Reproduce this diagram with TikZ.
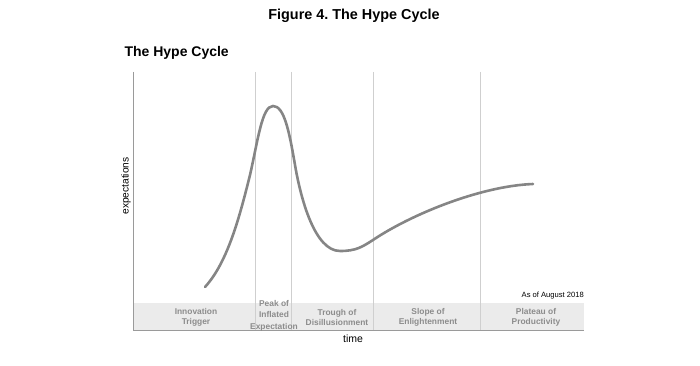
\documentclass[tikz,border=0pt]{standalone}
\usepackage{fontspec}
\setmainfont{Liberation Sans}
\frenchspacing
\definecolor{curvegray}{HTML}{858585}
\definecolor{gridgray}{HTML}{CFCFCF}
\definecolor{axisgray}{HTML}{9A9A9A}
\definecolor{bandgray}{HTML}{EBEBEB}
\definecolor{labelgray}{HTML}{8C8C8C}
\tikzset{
  phase/.style={align=center, text=labelgray, font=\fontsize{8.4}{10}\selectfont\bfseries},
  divider/.style={draw=gridgray, line width=0.8pt},
}
\begin{document}
\begin{tikzpicture}[x=1pt, y=-1pt]
\useasboundingbox (0,0) rectangle (700,366);
% titles
\node[font=\fontsize{14.4}{16}\selectfont\bfseries] (fig) at (354,16) {Figure 4. The Hype Cycle};
\node[font=\fontsize{14}{16}\selectfont\bfseries, anchor=west] (title) at (121,53) {The Hype Cycle};
% phase band and dividers
\fill[bandgray] (133,303) rectangle (584,330);
\draw[divider] (255,72) -- (255,330);
\draw[divider] (291,72) -- (291,330);
\draw[divider] (373,72) -- (373,330);
\draw[divider] (480,72) -- (480,330);
% axes
\coordinate (top) at (133,72);
\coordinate (origin) at (133,330.5);
\coordinate (xend) at (584,330.5);
\draw[axisgray, line width=1pt] (top) -- (origin) -- (xend);
% the hype curve
\coordinate (start) at (205,287);
\coordinate (peak) at (273,106);
\coordinate (trough) at (340,251);
\coordinate (plateau) at (533,184);
\draw[curvegray, line width=2.6pt, line cap=round]
  (start) .. controls (228,262) and (240,215) .. (250,175)
  .. controls (258,140) and (262,106) .. (peak)
  .. controls (284,106) and (289,130) .. (295,165)
  .. controls (301,200) and (315,251) .. (trough)
  .. controls (356,251) and (362,247) .. (373,240)
  .. controls (410,215) and (480,186) .. (plateau);
% phase labels
\node[phase] (trigger) at (196,317) {Innovation\\Trigger};
\node[phase, font=\fontsize{8.4}{11.5}\selectfont\bfseries] (peaklbl) at (274,315.5) {Peak of\\Inflated\\Expectation};
\node[phase] (troughlbl) at (337,317) {Trough of\\Disillusionment};
\node[phase] (slopelbl) at (428,317) {Slope of\\Enlightenment};
\node[phase] (plateaulbl) at (536,317) {Plateau of\\Productivity};
% notes and axis labels
\node[font=\fontsize{7.6}{9}\selectfont, anchor=east, inner sep=0pt] (asof) at (584,296) {As of August 2018};
\node[font=\fontsize{10.5}{12}\selectfont] (time) at (353,339) {time};
\node[font=\fontsize{10.2}{12}\selectfont, rotate=90] (expect) at (126,186) {expectations};
\end{tikzpicture}
\end{document}
